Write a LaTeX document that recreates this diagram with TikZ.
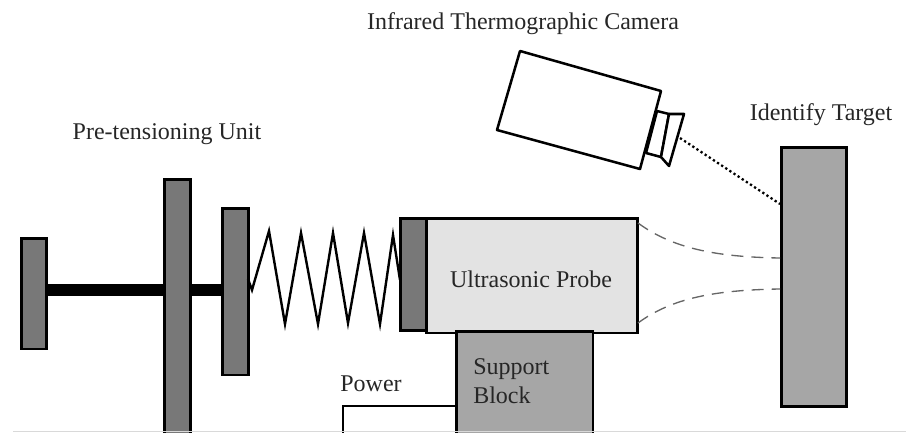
\documentclass[tikz,border=0pt]{standalone}
\usepackage{fontspec}
\setmainfont{Liberation Serif}
\usetikzlibrary{calc}
\begin{document}
\begin{tikzpicture}[x=0.75pt, y=-0.75pt,
                plate/.style={rectangle,draw=black,line width=2pt,fill=black!53,anchor=north west,inner sep=0pt},
                lightplate/.style={rectangle,draw=black,line width=2pt,fill=black!35,anchor=north west,inner sep=0pt},
                probe/.style={rectangle,draw=black,line width=2pt,fill=black!11,anchor=north west,inner sep=0pt},
                blank/.style={rectangle,draw=black,line width=1.6pt,fill=white,anchor=north west,inner sep=0pt},
                label/.style={inner sep=0pt,font=\fontsize{18}{22}\selectfont,text=black!85},
                lens/.style={draw=black,line width=1.9pt,fill=white,line join=round},
                beam/.style={draw=black!60,line width=1pt,dash pattern=on 9pt off 6pt}
            ]
                \useasboundingbox (0,0) rectangle (906,432);

                % Pre-tensioning unit
                \node[fill=black,inner sep=0pt,anchor=north west,minimum height=8.5pt,minimum width=135pt] (rod) at (46,284) {};
                \node[plate,minimum width=19pt,minimum height=83pt] (endplate) at (20,237) {};
                \node[plate,minimum width=19.5pt,minimum height=205pt] (midplate) at (163,178) {};
                \node[plate,minimum width=19.5pt,minimum height=125pt] (frontplate) at (221,207) {};
                \node[plate,minimum width=20pt,minimum height=84pt] (backing) at (399,217) {};

                % Probe and support
                \node[probe,minimum width=158.5pt,minimum height=86pt] (probe) at (425,217) {};
                \node[lightplate,minimum width=102.5pt,minimum height=90pt] (block) at (455,330) {};
                \node[blank,minimum width=85pt,minimum height=40pt] (power) at (342,405) {};
                \node[lightplate,minimum width=49pt,minimum height=194.5pt] (target) at (780,146) {};

                % Camera
                \coordinate (c1) at (520,51);
                \coordinate (c2) at (661,91);
                \coordinate (c3) at (640,169);
                \coordinate (c4) at (497,130);
                \draw[lens] (c1) -- (c2) -- (c3) -- (c4) -- cycle;
                \draw[lens] (657,111) -- (669,114) -- (661,157) -- (646,153) -- cycle;
                \draw[lens] (669,114) -- (684,114) -- (669,166) -- (661,157) -- cycle;
                \coordinate (lensfront) at (680,138);
                \coordinate (targetspot) at (780,204);
                \draw[black,line width=1.7pt,dotted] (lensfront) -- (targetspot);

                % Spring
                \coordinate (springstart) at (248,279);
                \coordinate (springend) at (400,280);
                \draw[black,line width=1.8pt,line join=miter] (springstart) -- (252,290) -- (269,231) -- (285,324) -- (301,233) -- (318,324) -- (333,233) -- (348,323) -- (364,233) -- (380,324) -- (393,235) -- (springend);

                % Ultrasonic beam
                \draw[beam] (638,223) .. controls (672,248) and (715,257) .. (780,258);
                \draw[beam] (638,323) .. controls (672,298) and (715,290) .. (780,289);

                % Labels
                \node[label] (cameralabel) at (523,24) {Infrared Thermographic Camera};
                \node[label] (targetlabel) at (821,115) {Identify Target};
                \node[label] (unitlabel) at (167,134) {Pre-tensioning Unit};
                \node[label] (probelabel) at (531,279) {Ultrasonic Probe};
                \node[label] (powerlabel) at (371,384) {Power};
                \node[label,align=left,anchor=north west] (blocklabel) at (473,358) {Support\\Block};

                % Bottom edge
                \fill[white] (0,431) rectangle (906,432);
                \draw[black!15,line width=0.8pt] (13,431.5) -- (906,431.5);
            \end{tikzpicture}
\end{document}
